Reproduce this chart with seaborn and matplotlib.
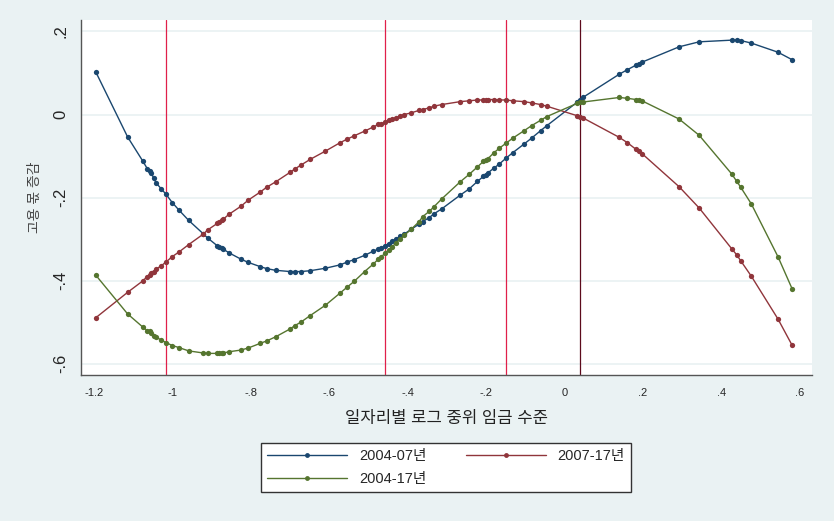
import numpy as np
import pandas as pd
import matplotlib
matplotlib.use('Agg')
import matplotlib.pyplot as plt
import seaborn as sns

# log median wage by job (shared x for the three fitted curves)
wage = [-1.196, -1.115, -1.077, -1.065, -1.059, -1.055, -1.048, -1.042, -1.029, -1.017,
        -1.001, -0.984, -0.959, -0.922, -0.911, -0.886, -0.881, -0.875, -0.871, -0.856,
        -0.826, -0.807, -0.777, -0.760, -0.737, -0.700, -0.688, -0.673, -0.649, -0.610,
        -0.573, -0.554, -0.536, -0.510, -0.488, -0.475, -0.467, -0.458, -0.449, -0.441,
        -0.430, -0.419, -0.409, -0.391, -0.371, -0.362, -0.345, -0.333, -0.313, -0.266,
        -0.243, -0.222, -0.207, -0.200, -0.196, -0.180, -0.166, -0.149, -0.132, -0.103,
        -0.084, -0.061, -0.045, 0.033, 0.040, 0.047, 0.140, 0.161, 0.183, 0.191,
        0.198, 0.293, 0.344, 0.427, 0.440, 0.450, 0.477, 0.545, 0.581]

d0407 = [0.102, -0.054, -0.111, -0.130, -0.136, -0.140, -0.154, -0.165, -0.179, -0.192,
         -0.212, -0.230, -0.255, -0.287, -0.297, -0.316, -0.319, -0.322, -0.324, -0.333,
         -0.348, -0.356, -0.366, -0.371, -0.375, -0.378, -0.378, -0.378, -0.376, -0.370,
         -0.362, -0.355, -0.349, -0.339, -0.329, -0.324, -0.321, -0.316, -0.311, -0.305,
         -0.300, -0.293, -0.288, -0.276, -0.264, -0.258, -0.248, -0.239, -0.227, -0.194,
         -0.179, -0.161, -0.149, -0.145, -0.141, -0.129, -0.119, -0.105, -0.092, -0.071,
         -0.057, -0.039, -0.027, 0.030, 0.035, 0.041, 0.097, 0.108, 0.119, 0.122,
         0.126, 0.163, 0.175, 0.179, 0.179, 0.178, 0.172, 0.150, 0.132]

d0717 = [-0.489, -0.428, -0.401, -0.390, -0.386, -0.382, -0.378, -0.372, -0.364, -0.355,
         -0.342, -0.331, -0.313, -0.288, -0.278, -0.262, -0.259, -0.254, -0.252, -0.240,
         -0.221, -0.206, -0.187, -0.175, -0.162, -0.139, -0.131, -0.122, -0.108, -0.088,
         -0.068, -0.059, -0.051, -0.040, -0.030, -0.024, -0.022, -0.019, -0.014, -0.011,
         -0.008, -0.003, 0.000, 0.004, 0.010, 0.012, 0.016, 0.020, 0.024, 0.031,
         0.033, 0.035, 0.035, 0.035, 0.036, 0.036, 0.035, 0.035, 0.033, 0.031,
         0.028, 0.024, 0.020, -0.003, -0.006, -0.008, -0.055, -0.068, -0.084, -0.088,
         -0.094, -0.174, -0.225, -0.323, -0.338, -0.352, -0.389, -0.492, -0.555]

d0417 = [-0.387, -0.480, -0.511, -0.520, -0.522, -0.525, -0.532, -0.536, -0.543, -0.549,
         -0.556, -0.561, -0.569, -0.574, -0.575, -0.575, -0.575, -0.574, -0.574, -0.571,
         -0.567, -0.562, -0.551, -0.545, -0.535, -0.516, -0.508, -0.500, -0.484, -0.459,
         -0.430, -0.415, -0.401, -0.378, -0.360, -0.348, -0.342, -0.334, -0.326, -0.320,
         -0.309, -0.299, -0.291, -0.276, -0.258, -0.246, -0.233, -0.222, -0.203, -0.162,
         -0.144, -0.126, -0.113, -0.110, -0.107, -0.092, -0.081, -0.069, -0.057, -0.039,
         -0.027, -0.014, -0.005, 0.027, 0.029, 0.030, 0.041, 0.039, 0.036, 0.035,
         0.033, -0.011, -0.050, -0.143, -0.161, -0.175, -0.215, -0.342, -0.419]

series = ['2004-07년', '2007-17년', '2004-17년']
colors = ['#1a476f', '#90353b', '#55752f']
vlines_red = [-1.017, -0.459, -0.150]
vline_dark = 0.041

xticks = [-1.2, -1.0, -0.8, -0.6, -0.4, -0.2, 0.0, 0.2, 0.4, 0.6]
xticklabels = ['-1.2', '-1', '-.8', '-.6', '-.4', '-.2', '0', '.2', '.4', '.6']
yticks = [-0.6, -0.4, -0.2, 0.0, 0.2]
yticklabels = ['-.6', '-.4', '-.2', '0', '.2']

df = pd.concat([
    pd.DataFrame({'x': wage, 'y': vals, 'series': name})
    for name, vals in zip(series, [d0407, d0717, d0417])
])

sns.set_style('white')
plt.rcParams['font.family'] = ['Liberation Sans', 'Noto Sans CJK KR', 'DejaVu Sans']

bg = '#eaf2f3'
fig = plt.figure(figsize=(8.34, 5.21), dpi=100, facecolor=bg)
ax = fig.add_axes([81/834, 1-375/521, (812-81)/834, (375-20)/521])
ax.set_facecolor('white')

for x in vlines_red:
    ax.axvline(x, color='#e0204a', lw=0.9, zorder=1)
ax.axvline(vline_dark, color='#5c0a1c', lw=0.9, zorder=1)

sns.lineplot(data=df, x='x', y='y', hue='series', hue_order=series,
             palette=colors, estimator=None, sort=True, marker='o',
             markersize=3.8, markeredgewidth=0, linewidth=1,
             legend=False, ax=ax, zorder=3)

ax.set_xlim(-1.234, 0.632)
ax.set_ylim(-0.627, 0.2275)
ax.set_xticks(xticks)
ax.set_xticklabels(xticklabels, fontsize=8)
ax.set_yticks(yticks)
ax.set_yticklabels(yticklabels, fontsize=12, rotation=90, va='center')
ax.yaxis.grid(True, color=bg, lw=1.3)
ax.set_axisbelow(True)
for s in ['top', 'right']:
    ax.spines[s].set_visible(False)
for s in ['left', 'bottom']:
    ax.spines[s].set_color('#555555')
    ax.spines[s].set_linewidth(1)
ax.tick_params(direction='out', length=5, color='#555555', width=1, pad=4)

ax.set_xlabel('일자리별 로그 중위 임금 수준', fontsize=12, labelpad=10, color='#222222')
ax.set_ylabel('고용 몫 증감', fontsize=10, labelpad=8, color='#444444')

handles = [plt.Line2D([], [], color=c, lw=1, marker='o', markersize=3.5, markeredgewidth=0)
           for c in colors]
# order so that column filling gives rows: 04-07, 07-17 / 04-17
order = [0, 2, 1]
leg = fig.legend([handles[i] for i in order], [series[i] for i in order],
                 loc='lower left',
                 bbox_to_anchor=(254/834, 1-499/521, (638-254)/834, (499-440)/521),
                 mode='expand', ncol=2, fontsize=10.5, handlelength=5.5,
                 frameon=True, fancybox=False, edgecolor='#333333',
                 facecolor='white', framealpha=1, borderpad=0.4,
                 labelspacing=0.6, columnspacing=2)
leg.get_frame().set_linewidth(1)

fig.savefig('out.png', dpi=100, facecolor=bg)
plt.close()
